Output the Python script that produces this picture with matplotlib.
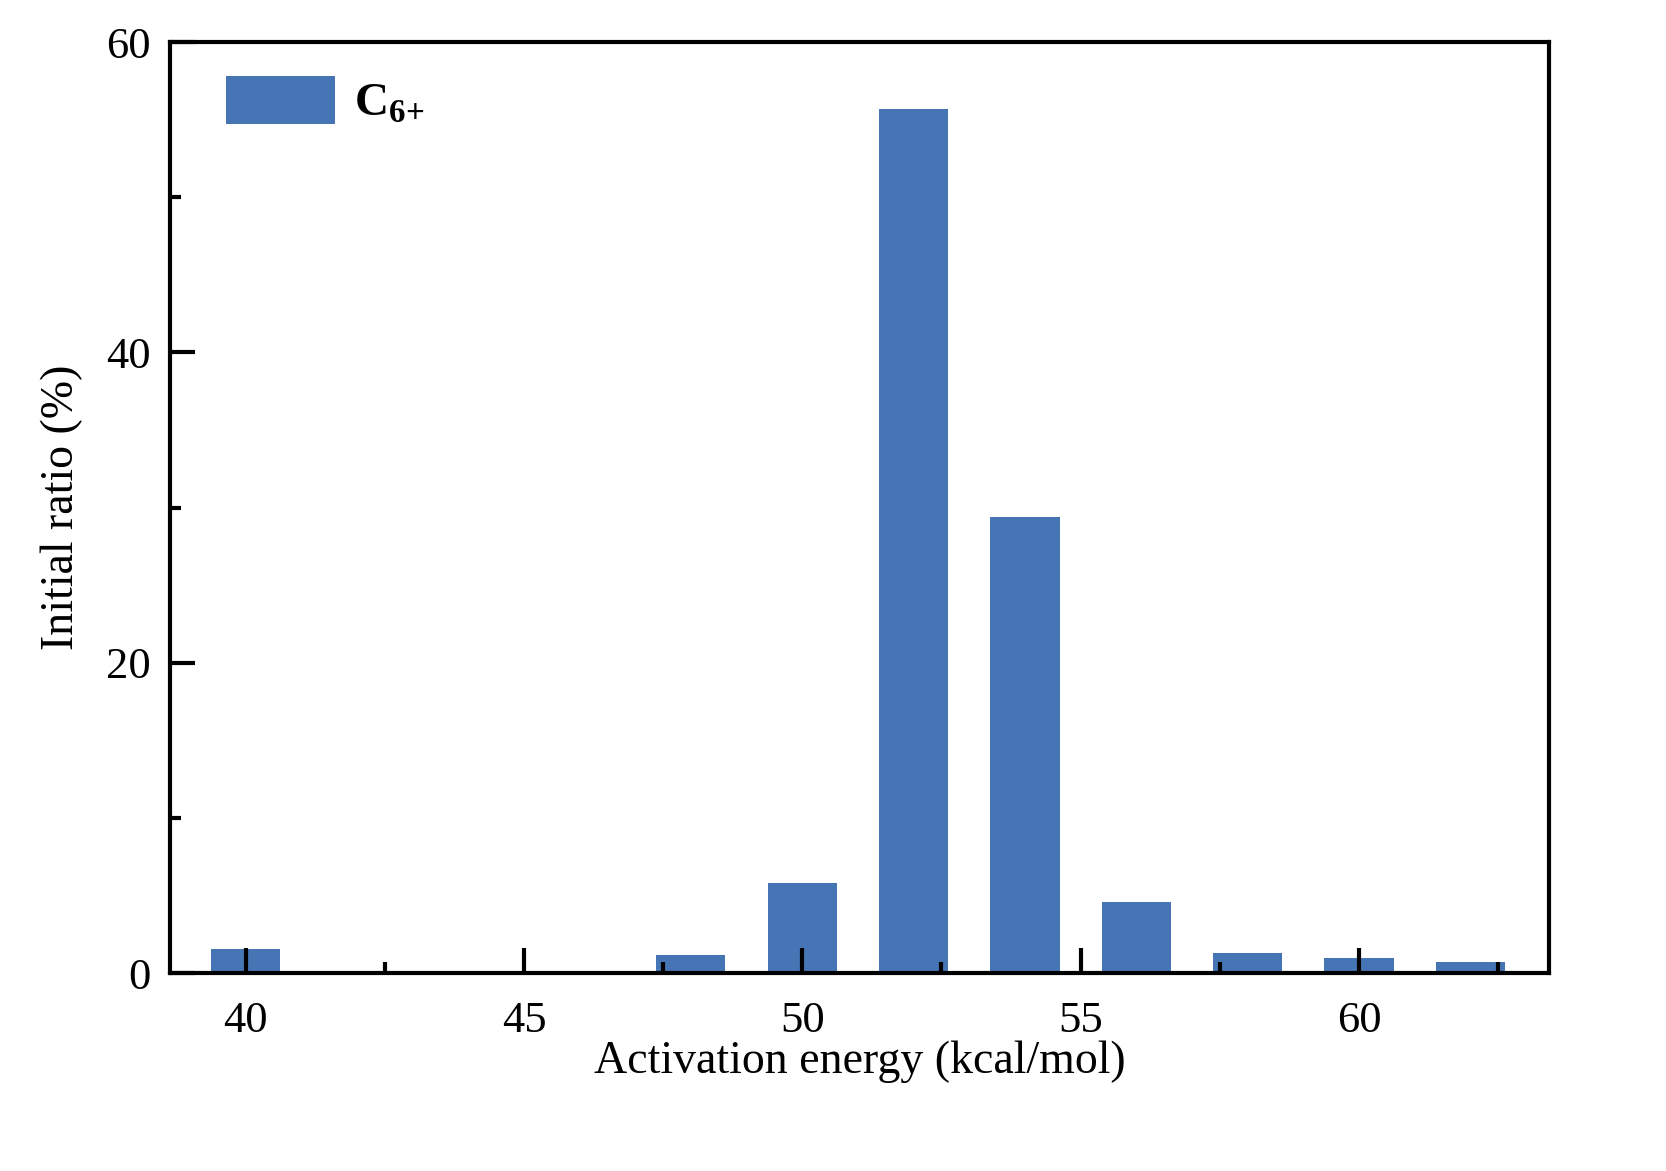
import matplotlib.pyplot as plt
from matplotlib.ticker import MultipleLocator

# activation energy (kcal/mol) and initial ratio (%)
energy = [40, 42, 44, 46, 48, 50, 52, 54, 56, 58, 60, 62]
ratio = [1.55, 0.0, 0.0, 0.0, 1.16, 5.8, 55.7, 29.4, 4.6, 1.3, 0.97, 0.72]
label = r'$\mathbf{C}_{\mathbf{6{+}}}$'

plt.rcParams['font.family'] = ['Liberation Serif', 'DejaVu Serif']
plt.rcParams['mathtext.fontset'] = 'custom'
plt.rcParams['mathtext.rm'] = 'Liberation Serif'
plt.rcParams['mathtext.bf'] = 'Liberation Serif:bold'

fig = plt.figure(figsize=(16.66, 11.71), dpi=100)
ax = fig.add_axes([0.102, 0.169, 0.828, 0.795])

ax.bar(energy, ratio, width=1.24, color='#4575b5', label=label)

ax.set_xlim(38.64, 63.42)
ax.set_ylim(0, 60)
ax.xaxis.set_major_locator(MultipleLocator(5))
ax.xaxis.set_minor_locator(MultipleLocator(2.5))
ax.yaxis.set_major_locator(MultipleLocator(20))
ax.yaxis.set_minor_locator(MultipleLocator(10))
ax.tick_params(which='both', direction='in', width=3, labelsize=32)
ax.tick_params(which='major', length=18)
ax.tick_params(axis='x', which='major', pad=20)
ax.tick_params(axis='y', which='major', pad=14)
ax.tick_params(which='minor', length=8)
for s in ax.spines.values():
    s.set_linewidth(3)

ax.set_xlabel('Activation energy (kcal/mol)', fontsize=33, labelpad=0)
ax.set_ylabel('Initial ratio (%)', fontsize=33, labelpad=16)

ax.legend(loc='upper left', bbox_to_anchor=(0.010, 1.0097), frameon=False,
          fontsize=34, handlelength=2.3, handleheight=1.2, borderaxespad=0.5,
          handletextpad=0.4)

fig.savefig('out.png', dpi=100)
